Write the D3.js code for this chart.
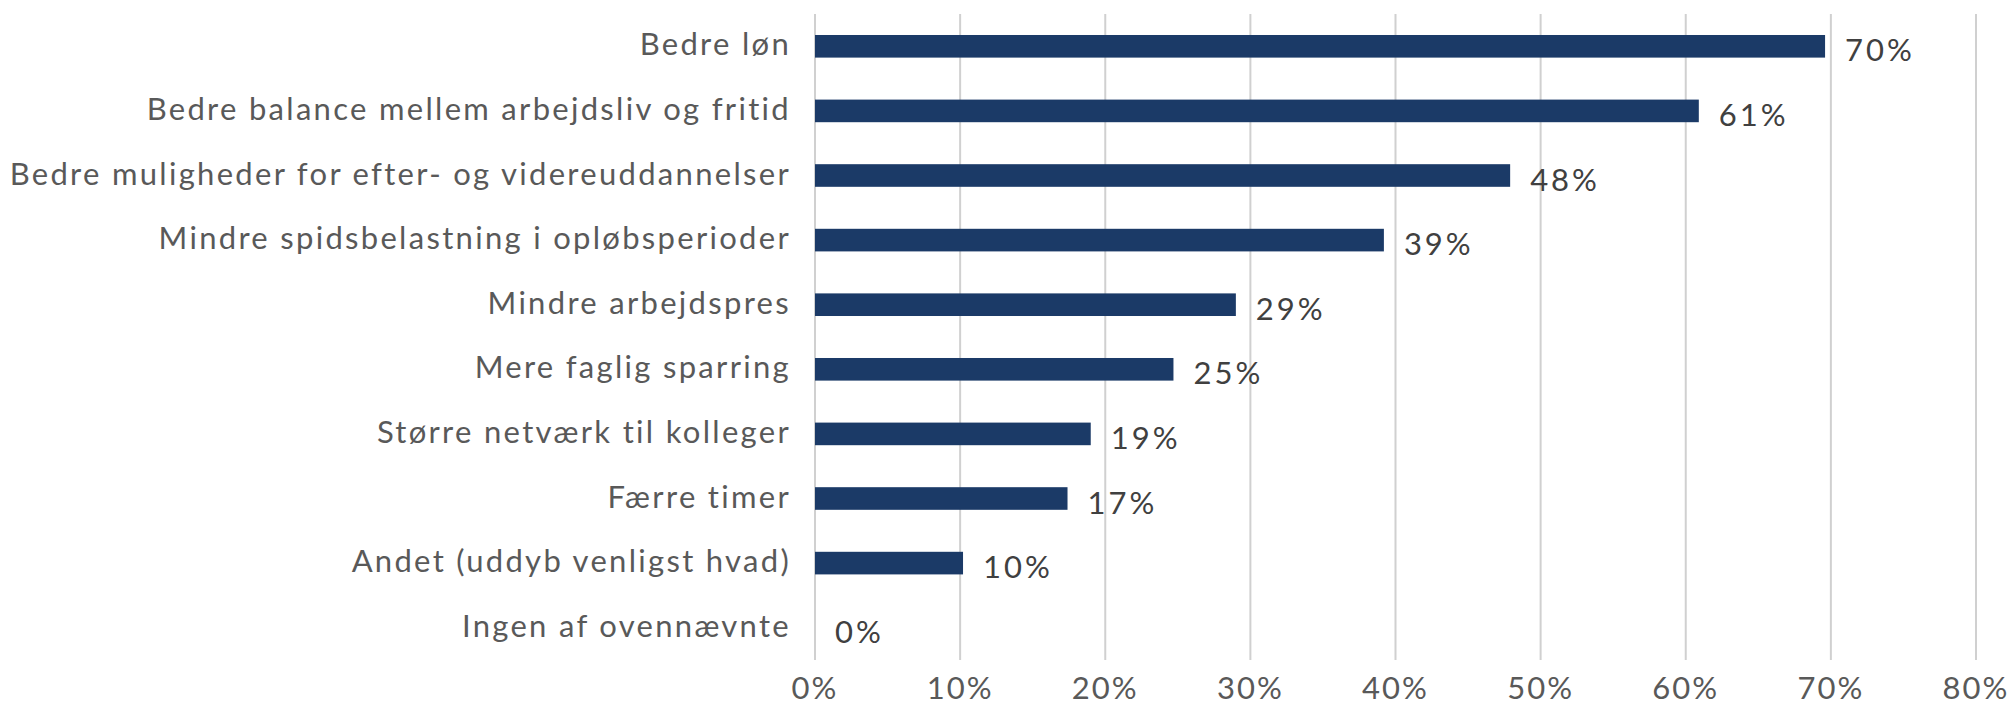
<!DOCTYPE html>
<html>
<head>
<meta charset="utf-8">
<script src="https://cdn.jsdelivr.net/npm/d3@7"></script>
<style>
    body { margin: 0; background: #fff; }
    svg text { font-family: Lato, "Open Sans", sans-serif; }
</style>
</head>
<body>
<div id="chart"></div>
<script>
// Categories top to bottom
const categories = [
    "Bedre løn",
    "Bedre balance mellem arbejdsliv og fritid",
    "Bedre muligheder for efter- og videreuddannelser",
    "Mindre spidsbelastning i opløbsperioder",
    "Mindre arbejdspres",
    "Mere faglig sparring",
    "Større netværk til kolleger",
    "Færre timer",
    "Andet (uddyb venligst hvad)",
    "Ingen af ovennævnte"
];
// Share of respondents, percent
const values = [69.6, 60.9, 47.9, 39.2, 29.0, 24.7, 19.0, 17.4, 10.2, 0];
const ticks = [0, 10, 20, 30, 40, 50, 60, 70, 80];

const width = 2015, height = 707;
const margin = { top: 14, right: 39, bottom: 47, left: 815 };

const svg = d3.select("#chart")
    .append("svg")
    .attr("width", width)
    .attr("height", height);

const x = d3.scaleLinear()
    .domain([0, 80])
    .range([margin.left, width - margin.right]);

const y = d3.scaleBand()
    .domain(categories)
    .range([margin.top, height - margin.bottom])
    .paddingInner(0.65)
    .paddingOuter(0.325);

// Gridlines
svg.append("g")
    .selectAll("line")
    .data(ticks)
    .enter().append("line")
    .attr("x1", d => x(d))
    .attr("x2", d => x(d))
    .attr("y1", margin.top)
    .attr("y2", height - margin.bottom)
    .style("stroke", "#d0d0d0")
    .style("stroke-width", 2);

// Bars
svg.append("g")
    .selectAll("rect")
    .data(values)
    .enter().append("rect")
    .attr("x", x(0))
    .attr("y", (d, i) => y(categories[i]))
    .attr("width", d => x(d) - x(0))
    .attr("height", y.bandwidth())
    .attr("fill", "#1b3a67");

// Data labels
svg.append("g")
    .selectAll("text")
    .data(values)
    .enter().append("text")
    .attr("x", d => x(d) + 20)
    .attr("y", (d, i) => y(categories[i]) + y.bandwidth() / 2 + 15)
    .style("font-size", "31px")
    .style("letter-spacing", "3px")
    .style("fill", "#404040")
    .text(d => Math.round(d) + "%");

// Category labels
svg.append("g")
    .selectAll("text")
    .data(categories)
    .enter().append("text")
    .attr("x", x(0) - 24)
    .attr("y", d => y(d) + y.bandwidth() / 2 + 9)
    .attr("text-anchor", "end")
    .style("font-size", "31px")
    .style("letter-spacing", "2.3px")
    .style("fill", "#595959")
    .text(d => d);

// X axis tick labels
svg.append("g")
    .selectAll("text")
    .data(ticks)
    .enter().append("text")
    .attr("x", d => x(d))
    .attr("y", 699)
    .attr("text-anchor", "middle")
    .style("font-size", "31px")
    .style("letter-spacing", "2px")
    .style("fill", "#595959")
    .text(d => d + "%");
</script>
</body>
</html>
